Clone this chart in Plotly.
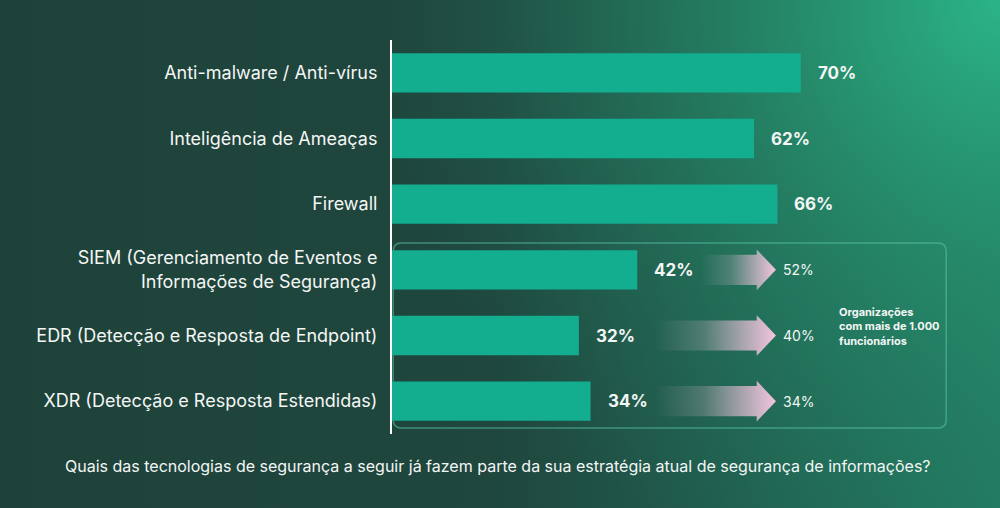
import base64
import plotly.graph_objects as go

# ---------------- data ----------------
categories = [
    "Anti-malware / Anti-vírus",
    "Inteligência de Ameaças",
    "Firewall",
    "SIEM (Gerenciamento de Eventos e<br>Informações de Segurança)",
    "EDR (Detecção e Resposta de Endpoint)",
    "XDR (Detecção e Resposta Estendidas)",
]
values = [70, 62, 66, 42, 32, 34]
value_labels = ["70%", "62%", "66%", "42%", "32%", "34%"]
large_org_rows = [3, 4, 5]
large_org_values = [52, 40, 34]
large_org_labels = ["52%", "40%", "34%"]
note_text = "<b>Organizações<br>com mais de 1.000<br>funcionários</b>"
question = ("Quais das tecnologias de segurança a seguir já fazem parte da sua "
            "estratégia atual de segurança de informações?")

# ---------------- layout constants ----------------
W, H = 1000, 508
ML, MR, MT, MB = 392, 24, 40, 74
PW, PH = W - ML - MR, H - MT - MB
FONT = "Inter"
BAR_COLOR = "#13ad8f"
TEXT_COLOR = "#f4f6f5"
PINK = "243,196,222"

def paper_x(px):
    return (px - ML) / PW

def paper_y(py):
    return 1 - (py - MT) / PH

# background gradient as svg
svg = f"""<svg xmlns='http://www.w3.org/2000/svg' width='{W}' height='{H}'>
<defs>
<linearGradient id='a' x1='0' y1='0' x2='1' y2='0'>
<stop offset='0' stop-color='#1e4239'/>
<stop offset='0.5' stop-color='#1f473e'/>
<stop offset='1' stop-color='#227a62'/>
</linearGradient>
<radialGradient id='b' cx='{W}' cy='0' r='620' gradientUnits='userSpaceOnUse'>
<stop offset='0' stop-color='#2bb487' stop-opacity='1'/>
<stop offset='0.45' stop-color='#27946f' stop-opacity='0.55'/>
<stop offset='1' stop-color='#24795f' stop-opacity='0'/>
</radialGradient>
</defs>
<rect width='{W}' height='{H}' fill='url(#a)'/>
<rect width='{W}' height='{H}' fill='url(#b)'/>
</svg>"""
bg_uri = "data:image/svg+xml;base64," + base64.b64encode(svg.encode()).decode()

rows = list(range(len(categories)))

fig = go.Figure()
fig.add_trace(go.Bar(
    x=values, y=rows, orientation="h", marker=dict(color=BAR_COLOR, line=dict(width=0)),
    width=0.6, hoverinfo="skip", showlegend=False,
))

# gradient arrows for large organisations
TIP_X = 65.75
HEAD_LEN = 3.3
BODY_H = 0.23
HEAD_H = 0.31
for r in large_org_rows:
    x0 = max(values[r] + 11, 45)
    xh = TIP_X - HEAD_LEN
    xs = [x0, xh, xh, TIP_X, xh, xh, x0, x0]
    ys = [r - BODY_H, r - BODY_H, r - HEAD_H, r, r + HEAD_H, r + BODY_H, r + BODY_H, r - BODY_H]
    fig.add_trace(go.Scatter(
        x=xs, y=ys, mode="lines", line=dict(width=0), fill="toself",
        fillgradient=dict(type="horizontal",
                          colorscale=[[0, f"rgba({PINK},0)"], [0.4, f"rgba({PINK},0.22)"],
                                      [1, f"rgba({PINK},1)"]]),
        hoverinfo="skip", showlegend=False,
    ))

annotations = []
for r, (v, lab) in enumerate(zip(values, value_labels)):
    annotations.append(dict(
        x=v, y=r, xref="x", yref="y", text=f"<b>{lab}</b>", showarrow=False,
        xanchor="left", yanchor="middle", xshift=15,
        font=dict(family=FONT, size=17, color=TEXT_COLOR),
    ))
for r, lab in zip(large_org_rows, large_org_labels):
    annotations.append(dict(
        x=TIP_X, y=r, xref="x", yref="y", text=lab, showarrow=False,
        xanchor="left", yanchor="middle", xshift=5,
        font=dict(family=FONT, size=14, color=TEXT_COLOR),
    ))
annotations.append(dict(
    x=76.2, y=3.87, xref="x", yref="y", text=note_text, showarrow=False,
    xanchor="left", yanchor="middle", align="left",
    font=dict(family=FONT, size=11, color=TEXT_COLOR),
))
annotations.append(dict(
    x=paper_x(497.5), y=paper_y(466), xref="paper", yref="paper", text=question,
    showarrow=False, xanchor="center", yanchor="middle",
    font=dict(family=FONT, size=16, color=TEXT_COLOR),
))

# rounded box around the last three rows
bx0, bx1 = 0.2, 94.9
by0, by1 = 2.59, 5.41
rx, ry = 1.4, 0.13
box_path = (f"M {bx0+rx},{by0} L {bx1-rx},{by0} Q {bx1},{by0} {bx1},{by0+ry} "
            f"L {bx1},{by1-ry} Q {bx1},{by1} {bx1-rx},{by1} "
            f"L {bx0+rx},{by1} Q {bx0},{by1} {bx0},{by1-ry} "
            f"L {bx0},{by0+ry} Q {bx0},{by0} {bx0+rx},{by0} Z")

fig.update_layout(
    width=W, height=H,
    margin=dict(l=ML, r=MR, t=MT, b=MB, pad=0),
    paper_bgcolor="#1f463d", plot_bgcolor="rgba(0,0,0,0)",
    font=dict(family=FONT, color=TEXT_COLOR),
    xaxis=dict(range=[0, 100], visible=False, fixedrange=True),
    yaxis=dict(
        range=[5.5, -0.5], tickmode="array", tickvals=rows, ticktext=categories,
        ticks="", showgrid=False, zeroline=False, showline=True,
        linecolor="#ffffff", linewidth=2, ticklabelstandoff=9,
        tickfont=dict(family=FONT, size=18, color=TEXT_COLOR), fixedrange=True,
    ),
    annotations=annotations,
    shapes=[dict(type="path", path=box_path, xref="x", yref="y",
                 line=dict(color="rgba(90,200,165,0.55)", width=1.5),
                 fillcolor="rgba(0,0,0,0)", layer="below")],
    images=[dict(source=bg_uri, xref="paper", yref="paper",
                 x=paper_x(0), y=paper_y(0), sizex=W / PW, sizey=H / PH,
                 xanchor="left", yanchor="top", sizing="stretch", layer="below")],
    showlegend=False,
)

fig.write_html("out.html")
